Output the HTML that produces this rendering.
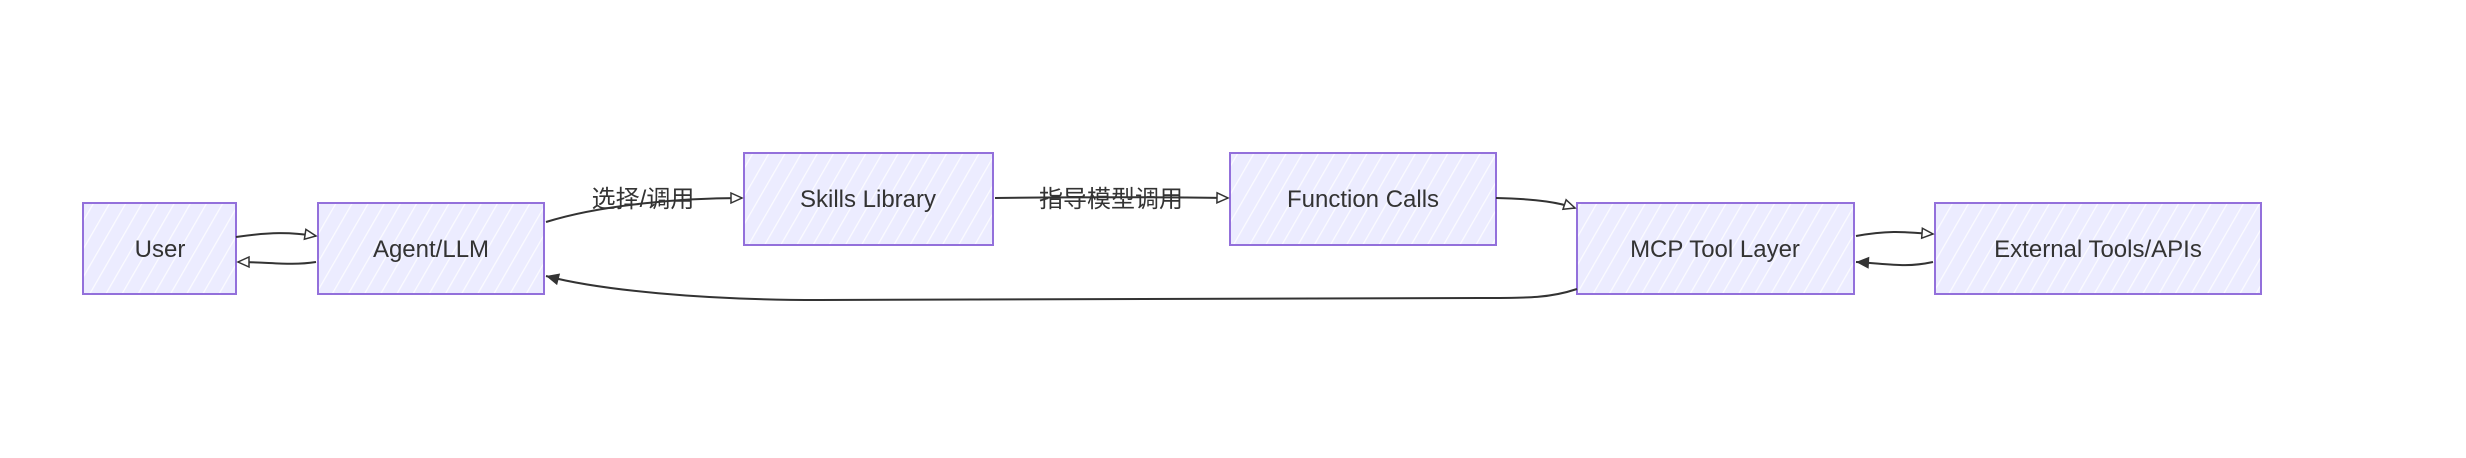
<!DOCTYPE html>
<html><head><meta charset="utf-8"><style>
html,body{margin:0;padding:0;background:#fff;width:2466px;height:458px;overflow:hidden}
svg text{font-family:"Liberation Sans","Noto Sans CJK SC",sans-serif;fill:#333;font-size:24px}
</style></head><body>
<svg width="2466" height="458" viewBox="0 0 2466 458" xmlns="http://www.w3.org/2000/svg">
<defs>
<pattern id="h" width="14" height="14" patternUnits="userSpaceOnUse" patternTransform="rotate(30)">
<rect width="14" height="14" fill="#ECECFF"/>
<line x1="0" y1="0" x2="0" y2="14" stroke="#fff" stroke-width="2.5" opacity="0.8"/>
</pattern>
<marker id="ao" markerWidth="14" markerHeight="14" refX="12" refY="7" orient="auto" markerUnits="userSpaceOnUse">
<path d="M1,2 L12,7 L1,12 Z" fill="#fff" stroke="#333" stroke-width="1.5"/></marker>
<marker id="af" markerWidth="16" markerHeight="16" refX="14" refY="8" orient="auto" markerUnits="userSpaceOnUse">
<path d="M1,2 L14,8 L1,14 Z" fill="#333"/></marker>
</defs>
<g stroke="#9370DB" stroke-width="2" fill="url(#h)">
<rect x="83" y="203" width="153" height="91"/>
<rect x="318" y="203" width="226" height="91"/>
<rect x="744" y="153" width="249" height="92"/>
<rect x="1230" y="153" width="266" height="92"/>
<rect x="1577" y="203" width="277" height="91"/>
<rect x="1935" y="203" width="326" height="91"/>
</g>
<g fill="none" stroke="#333" stroke-width="2">
<path d="M236,237 C270,232 290,232 316,236" marker-end="url(#ao)"/>
<path d="M316,262 C290,266 270,262 238,262" marker-end="url(#ao)"/>
<path d="M546,222 C600,205 680,198 742,198" marker-end="url(#ao)"/>
<path d="M995,198 C1080,197 1160,197 1228,198" marker-end="url(#ao)"/>
<path d="M1496,198 C1540,199 1560,203 1575,208" marker-end="url(#ao)"/>
<path d="M1577,289 C1550,298 1530,298 1480,298 L820,300 C700,300 600,290 546,276" marker-end="url(#af)"/>
<path d="M1856,236 C1890,230 1905,232 1933,234" marker-end="url(#ao)"/>
<path d="M1933,262 C1905,268 1890,264 1856,262" marker-end="url(#af)"/>
</g>
<rect x="585" y="184" width="116" height="30" fill="#fff" opacity="0"/>
<text x="643" y="207" text-anchor="middle">选择/调用</text>
<text x="1111" y="207" text-anchor="middle">指导模型调用</text>
<g text-anchor="middle">
<text x="160" y="257">User</text>
<text x="431" y="257">Agent/LLM</text>
<text x="868" y="207">Skills Library</text>
<text x="1363" y="207">Function Calls</text>
<text x="1715" y="257">MCP Tool Layer</text>
<text x="2098" y="257">External Tools/APIs</text>
</g>
</svg>
</body></html>
